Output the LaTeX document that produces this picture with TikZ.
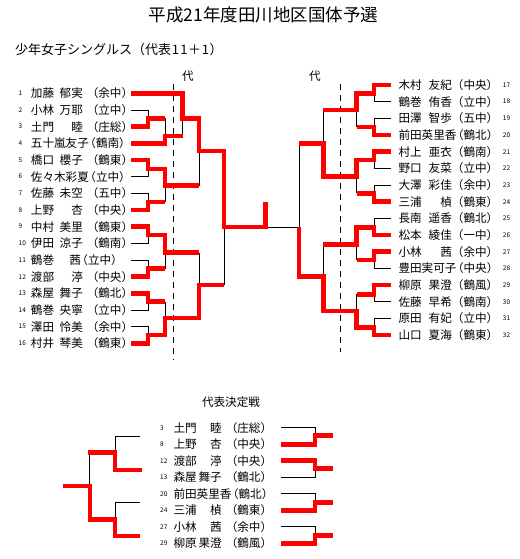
\documentclass[tikz,border=0pt]{standalone}
\usepackage{fontspec}
\setmainfont{Noto Sans CJK JP}
\newcommand\fsz[1]{\fontsize{#1}{#1}\selectfont}
% name layouts
\newcommand\pn[3]{\makebox[52pt][l]{#1\hfill#2}\makebox[50.3pt][r]{（#3）}}
\newcommand\pc[2]{#1\hspace{-4.5pt}（#2）}
\newcommand\pq[3]{\makebox[50pt][l]{#1\hfill#2}\hspace{-4.5pt}（#3）}
\newcommand\rn[3]{\makebox[53.4pt][l]{#1\hfill#2}\makebox[46.4pt][r]{（#3）}}
\newcommand\bn[3]{\makebox[48.2pt][l]{#1\hfill#2}\makebox[50.5pt][r]{（#3）}}
\newcommand\dg[1]{\makebox[8.5pt]{#1}}
% rows
\newcommand\lrow[2]{%
  \node[num] (ln#1) at (18.5,{93.3+(#1-1)*16.67}) {#1};
  \node[nm] (lp#1) at (30.7,{93.3+(#1-1)*16.67}) {#2};
  \coordinate (L#1) at (131,{93.3+(#1-1)*16.67});}
\newcommand\rrow[2]{%
  \node[num] (rn#1) at (502.7,{85+(#1-17)*16.67}) {#1};
  \node[nm] (rp#1) at (398.3,{85+(#1-17)*16.67}) {#2};
  \coordinate (R#1) at (391,{85+(#1-17)*16.67});}
\newcommand\brow[3]{%
  \node[num] (bn#2) at (160,{427.7+#1*16.5}) {#2};
  \node[nm] (bp#2) at (173.3,{427.7+#1*16.5}) {#3};
  \coordinate (B#2) at (281,{427.7+#1*16.5});}
\begin{document}
\begin{tikzpicture}[x=1pt,y=-1pt,
  nm/.style={anchor=west,inner sep=0pt,font=\fsz{11.6}},
  num/.style={anchor=west,inner sep=0pt,font=\fsz{6.5}},
  lbl/.style={inner sep=0pt,font=\fsz{11.6}},
  win/.style={draw=red,line width=4.6pt,line join=miter},
  lose/.style={draw=black,line width=0.9pt},
  dsh/.style={draw=black,line width=0.9pt,dash pattern=on 6pt off 5pt}]
\useasboundingbox (0,0) rectangle (519,559);
\fill[white] (0,0) rectangle (519,559);

\node[inner sep=0pt,font=\fsz{17.5}] (title) at (263.5,15) {平成21年度田川地区国体予選};
\node[anchor=west,inner sep=0pt,font=\fsz{13}] (sub) at (15,50) {少年女子シングルス（代表\dg{1}\dg{1}＋\dg{1}）};
\node[lbl] (dai1) at (188,76) {代};
\node[lbl] (dai2) at (315,76) {代};
\node[lbl] (final) at (231,401.7) {代表決定戦};

% left players
\lrow{1}{\pn{加藤}{郁実}{余中}}
\lrow{2}{\pn{小林}{万耶}{立中}}
\lrow{3}{\pn{土門}{睦}{庄総}}
\lrow{4}{\pc{五十嵐友子}{鶴南}}
\lrow{5}{\pn{橋口}{櫻子}{鶴東}}
\lrow{6}{\pc{佐々木彩夏}{立中}}
\lrow{7}{\pn{佐藤}{未空}{五中}}
\lrow{8}{\pn{上野}{杏}{中央}}
\lrow{9}{\pn{中村}{美里}{鶴東}}
\lrow{10}{\pn{伊田}{涼子}{鶴南}}
\lrow{11}{\pq{鶴巻}{茜}{立中}}
\lrow{12}{\pn{渡部}{渟}{中央}}
\lrow{13}{\pn{森屋}{舞子}{鶴北}}
\lrow{14}{\pn{鶴巻}{央寧}{立中}}
\lrow{15}{\pn{澤田}{怜美}{余中}}
\lrow{16}{\pn{村井}{琴美}{鶴東}}

% right players
\rrow{17}{\rn{木村}{友紀}{中央}}
\rrow{18}{\rn{鶴巻}{侑香}{立中}}
\rrow{19}{\rn{田澤}{智歩}{五中}}
\rrow{20}{\pc{前田英里香}{鶴北}}
\rrow{21}{\rn{村上}{亜衣}{鶴南}}
\rrow{22}{\rn{野口}{友菜}{立中}}
\rrow{23}{\rn{大澤}{彩佳}{余中}}
\rrow{24}{\rn{三浦}{楨}{鶴東}}
\rrow{25}{\rn{長南}{遥香}{鶴北}}
\rrow{26}{\rn{松本}{綾佳}{一中}}
\rrow{27}{\rn{小林}{茜}{余中}}
\rrow{28}{\pc{豊田実可子}{中央}}
\rrow{29}{\rn{柳原}{果澄}{鶴風}}
\rrow{30}{\rn{佐藤}{早希}{鶴南}}
\rrow{31}{\rn{原田}{有妃}{立中}}
\rrow{32}{\rn{山口}{夏海}{鶴東}}

% bottom list
\brow{0}{3}{\bn{土門}{睦}{庄総}}
\brow{1}{8}{\bn{上野}{杏}{中央}}
\brow{2}{12}{\bn{渡部}{渟}{中央}}
\brow{3}{13}{\bn{森屋}{舞子}{鶴北}}
\brow{4}{20}{\pc{前田英里香}{鶴北}}
\brow{5}{24}{\bn{三浦}{楨}{鶴東}}
\brow{6}{27}{\bn{小林}{茜}{余中}}
\brow{7}{29}{\bn{柳原}{果澄}{鶴風}}

% dashed guides
\coordinate (dL1) at (173.3,84); \coordinate (dL2) at (173.3,360);
\coordinate (dR1) at (340,84);   \coordinate (dR2) at (340,352);
\draw[dsh] (dL1) -- (dL2);
\draw[dsh] (dR1) -- (dR2);

% ---------- left bracket: losers ----------
\draw[lose] (L2) -| (148,118.3);
\draw[lose] (165,118.3) -- (165,136);
\draw[lose] (182.7,136) -- (182.7,118.3);
\draw[lose] (L6) -| (148,169);
\draw[lose] (L7) -| (148,202);
\draw[lose] (165,202) -- (165,185.7);
\draw[lose] (199,185.7) -- (199,151);
\draw[lose] (L10) -| (148,235);
\draw[lose] (L11) -| (148,268.5);
\draw[lose] (165,268.5) -- (165,252.7);
\draw[lose] (199,252.7) -- (199,285);
\draw[lose] (L14) -| (148,301.7);
\draw[lose] (165,301.7) -- (165,318);
\draw[lose] (L15) -| (148,335);
\draw[lose] (224,285) -- (224,227);
\draw[lose] (265.7,227) -- (299,227);

% ---------- left bracket: winners ----------
\draw[win] (L3) -| (148,118.3) -- (165,118.3);
\draw[win] (L4) -| (165,136) -- (182.7,136);
\draw[win] (L1) -| (182.7,118.3) -- (199,118.3) -- (199,151) -- (224,151) -- (224,227) -- (265.7,227) -- (265.7,201.7);
\draw[win] (L5) -| (148,169) -- (165,169) -- (165,185.7) -- (199,185.7);
\draw[win] (L8) -| (148,202) -- (165,202);
\draw[win] (L9) -| (148,235) -- (165,235) -- (165,252.7) -- (199,252.7);
\draw[win] (L12) -| (148,268.5) -- (165,268.5);
\draw[win] (L13) -| (148,301.7) -- (165,301.7);
\draw[win] (L16) -| (148,335) -- (165,335) -- (165,318) -- (199,318) -- (199,285) -- (224,285);

% ---------- right bracket: losers ----------
\draw[lose] (R18) -| (374,93.3);
\draw[lose] (R19) -| (374,127);
\draw[lose] (356.7,127) -- (356.7,110);
\draw[lose] (323.3,110) -- (323.3,143.3);
\draw[lose] (R22) -| (374,160);
\draw[lose] (R23) -| (374,193.3);
\draw[lose] (356.7,193.3) -- (356.7,176.7);
\draw[lose] (299,143.3) -- (299,227);
\draw[lose] (R25) -| (374,227.7);
\draw[lose] (R28) -| (374,260);
\draw[lose] (356.7,260) -- (356.7,244.3);
\draw[lose] (323.3,244.3) -- (323.3,276.7);
\draw[lose] (R30) -| (374,294.3);
\draw[lose] (356.7,294.3) -- (356.7,311);
\draw[lose] (R31) -| (374,327.7);

% ---------- right bracket: winners ----------
\draw[win] (R17) -| (374,93.3) -- (356.7,93.3) -- (356.7,110) -- (323.3,110);
\draw[win] (R20) -| (374,127) -- (356.7,127);
\draw[win] (R21) -| (374,160) -- (356.7,160) -- (356.7,176.7) -- (323.3,176.7) -- (323.3,143.3) -- (299,143.3);
\draw[win] (R24) -| (374,193.3) -- (356.7,193.3);
\draw[win] (R26) -| (374,227.7) -- (356.7,227.7) -- (356.7,244.3) -- (323.3,244.3);
\draw[win] (R27) -| (374,260) -- (356.7,260);
\draw[win] (R29) -| (374,294.3) -- (356.7,294.3);
\draw[win] (R32) -| (374,327.7) -- (356.7,327.7) -- (356.7,311) -- (323.3,311) -- (323.3,276.7) -- (299,276.7) -- (299,227);

% ---------- bottom-right playoff ----------
\draw[lose] (B3) -| (315,435.7);
\draw[win] (B8) -| (315,435.7) -- (333.3,435.7);
\draw[lose] (B13) -| (315,468.3);
\draw[win] (B12) -| (315,468.3) -- (333.3,468.3);
\draw[lose] (B20) -| (315,502.3);
\draw[win] (B24) -| (315,502.3) -- (333.3,502.3);
\draw[lose] (B27) -| (315,535.7);
\draw[win] (B29) -| (315,535.7) -- (333.3,535.7);

% ---------- bottom-left bracket ----------
\coordinate (a1) at (140,436);
\coordinate (a2) at (88.3,452.7);
\coordinate (a3) at (141.7,470);
\coordinate (a4) at (63.3,486);
\coordinate (a5) at (140,502.7);
\coordinate (a6) at (140,536);
\draw[lose] (a1) -| (115,452.7);
\draw[lose] (89.3,452.7) -- (89.3,486);
\draw[lose] (a5) -| (115,519.3);
\draw[win] (a2) -| (115,470) -- (a3);
\draw[win] (a4) -| (90,519.3) -- (115,519.3) -- (115,536) -- (a6);
\end{tikzpicture}
\end{document}
